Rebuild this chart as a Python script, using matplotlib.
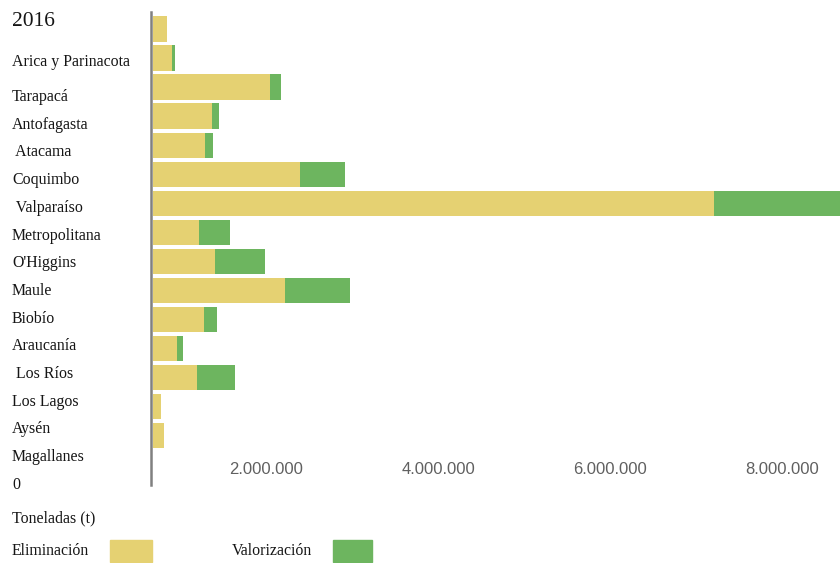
import matplotlib
matplotlib.use("Agg")
import matplotlib.pyplot as plt
import matplotlib.transforms as mtransforms
from matplotlib.patches import Rectangle

# ---- data ----
year_label = "2016"
regions = ["Arica y Parinacota", "Tarapacá", "Antofagasta", " Atacama", "Coquimbo",
           " Valparaíso", "Metropolitana", "O'Higgins", "Maule", "Biobío",
           "Araucanía", " Los Ríos", "Los Lagos", "Aysén", "Magallanes"]
# bars as drawn (rows top to bottom)
eliminacion = [160000, 220000, 1360000, 690000, 600000, 1710000, 6530000, 530000,
               720000, 1530000, 590000, 280000, 510000, 90000, 130000]
valorizacion = [0, 35000, 130000, 80000, 100000, 520000, 1650000, 360000,
                580000, 760000, 150000, 70000, 440000, 0, 0]
tick_values = [2000000, 4000000, 6000000, 8000000]
tick_labels = ["2.000.000", "4.000.000", "6.000.000", "8.000.000"]
zero_label = "0"
unit_label = "Toneladas (t)"
legend_labels = ["Eliminación", "Valorización"]

c_elim = "#E5D172"
c_val = "#6DB55F"
serif = ["Liberation Serif", "DejaVu Serif"]
txt_col = "#151515"

W, H = 840, 563
fig = plt.figure(figsize=(W / 100, H / 100), dpi=100)
fig.patch.set_facecolor("white")

def fx(px):
    return px / W

def fy(py):
    return 1 - py / H

ax = fig.add_axes([fx(151), fy(485), 1 - fx(151), fy(12) - fy(485)])
rows = list(range(len(eliminacion)))
ax.barh(rows, eliminacion, height=0.88, color=c_elim, left=0)
ax.barh(rows, valorizacion, height=0.88, color=c_val, left=eliminacion)
ax.set_xlim(-25000, 7990000)
ax.set_ylim(15.7, -0.59)
ax.set_xticks([])
ax.set_yticks([])
for s in ["top", "right", "bottom"]:
    ax.spines[s].set_visible(False)
ax.spines["left"].set_color("#808080")
ax.spines["left"].set_linewidth(1.8)
ax.spines["left"].set_position(("data", -25000))

# tick labels (offset left of their value, as in the reference)
off = mtransforms.ScaledTranslation(-59 / 100, 0, fig.dpi_scale_trans)
trans = mtransforms.blended_transform_factory(ax.transData, ax.transAxes) + off
for v, lab in zip(tick_values, tick_labels):
    ax.text(v, (485 - 470) / (485 - 12), lab, transform=trans, ha="center", va="center",
            fontsize=12, color="#606060", family=["Liberation Sans", "DejaVu Sans"])

# left labels
fig.text(fx(12), fy(22), year_label, ha="left", va="center", fontsize=15.5,
         family=serif, color=txt_col)
for k, name in enumerate(regions):
    ypix = 62 if k == 0 else 97 + 27.7 * (k - 1)
    fig.text(fx(12), fy(ypix), name, ha="left", va="center", fontsize=11.4,
             family=serif, color=txt_col)
fig.text(fx(12), fy(485), zero_label, ha="left", va="center", fontsize=11.4,
         family=serif, color=txt_col)
fig.text(fx(12), fy(518), unit_label, ha="left", va="center", fontsize=11.4,
         family=serif, color=txt_col)

# legend
fig.text(fx(12), fy(551), legend_labels[0], ha="left", va="center", fontsize=11.4,
         family=serif, color=txt_col)
fig.patches.append(Rectangle((fx(110), fy(562)), fx(42), fy(540) - fy(562),
                             transform=fig.transFigure, color=c_elim, figure=fig))
fig.text(fx(232), fy(551), legend_labels[1], ha="left", va="center", fontsize=11.4,
         family=serif, color=txt_col)
fig.patches.append(Rectangle((fx(333), fy(562)), fx(39), fy(540) - fy(562),
                             transform=fig.transFigure, color=c_val, figure=fig))

fig.savefig("out.png", dpi=100)
